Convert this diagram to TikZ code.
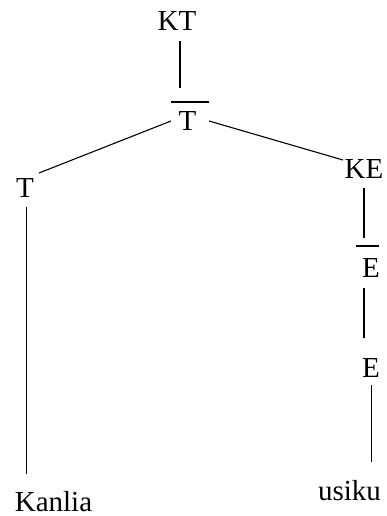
\documentclass[tikz,border=0pt]{standalone}
\usepackage{fontspec}
\setmainfont{Liberation Serif}
\begin{document}
\begin{tikzpicture}[x=1pt,y=-1pt,
  lab/.style={font=\fontsize{29}{32}\selectfont, inner sep=0pt, anchor=base},
  edge/.style={line width=1.1pt}]
\useasboundingbox (0,0) rectangle (386,516);
% labels
\node[lab] (kt) at (177,31) {KT};
\node[lab] (tb) at (187.5,130) {T};
\node[lab] (tl) at (25,197) {T};
\node[lab] (ke) at (364,178) {KE};
\node[lab] (eb) at (371,277) {E};
\node[lab] (e) at (371,377) {E};
\node[lab] (kan) at (53.5,511) {Kanlia};
\node[lab] (usi) at (349.5,500) {usiku};
% bars
\draw[edge] (171,102) coordinate (tbL) -- (209,102) coordinate (tbR);
\draw[edge] (356,246) coordinate (ebL) -- (379,246) coordinate (ebR);
% connector endpoints
\coordinate (a1) at (180,41);  \coordinate (a2) at (180,88);
\coordinate (b1) at (171,121); \coordinate (b2) at (39,173);
\coordinate (c1) at (209,121); \coordinate (c2) at (343,160);
\coordinate (d1) at (26,207);  \coordinate (d2) at (26,474);
\coordinate (f1) at (364,188); \coordinate (f2) at (364,238);
\coordinate (g1) at (364,288); \coordinate (g2) at (364,338);
\coordinate (h1) at (371.5,385); \coordinate (h2) at (371.5,462);
\draw[edge] (a1) -- (a2);
\draw[edge] (b1) -- (b2);
\draw[edge] (c1) -- (c2);
\draw[line width=0.8pt] (d1) -- (d2);
\draw[edge] (f1) -- (f2);
\draw[edge] (g1) -- (g2);
\draw[edge] (h1) -- (h2);
\end{tikzpicture}
\end{document}
